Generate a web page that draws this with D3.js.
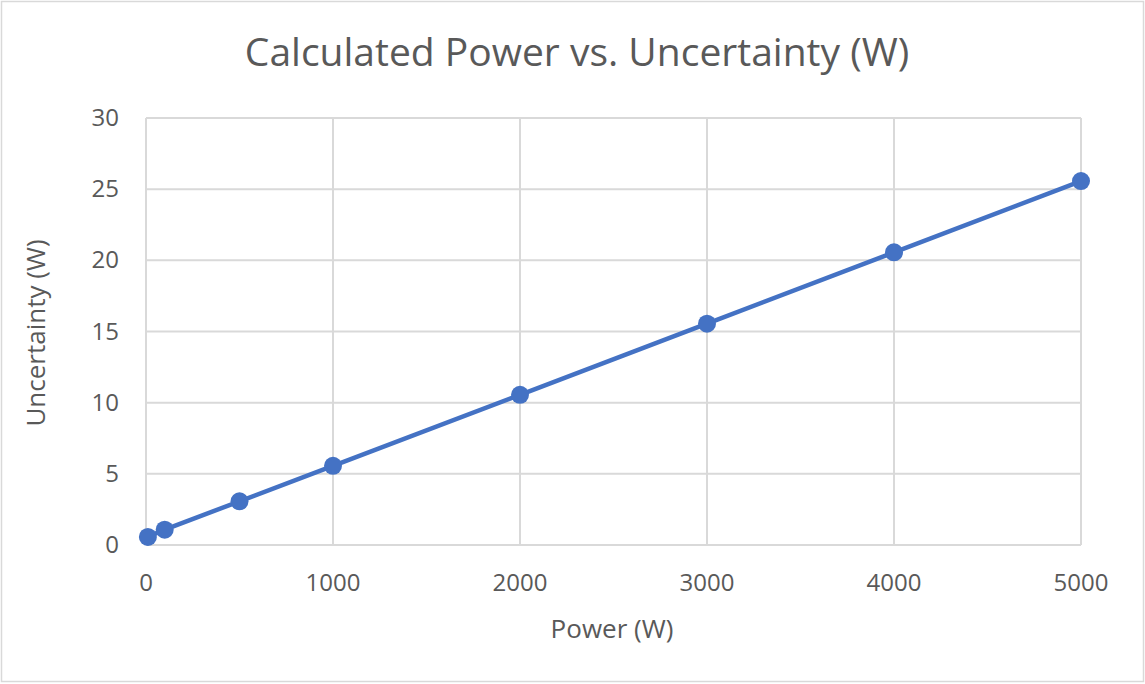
<!DOCTYPE html>
<html><head><meta charset="utf-8">
<script src="https://cdn.jsdelivr.net/npm/d3@7"></script>
<style>body{margin:0;background:#fff;} svg{display:block;}</style>
</head><body>
<script>
const powerValues = [10, 100, 500, 1000, 2000, 3000, 4000, 5000];
const uncertaintyValues = [0.57, 1.08, 3.07, 5.56, 10.55, 15.55, 20.56, 25.57];
const xTicks = [0, 1000, 2000, 3000, 4000, 5000];
const yTicks = [0, 5, 10, 15, 20, 25, 30];
const titleText = "Calculated Power vs. Uncertainty (W)";
const xTitle = "Power (W)";
const yTitle = "Uncertainty (W)";

const W = 1145, H = 684;
const font = "'Open Sans', 'Liberation Sans', sans-serif";
const svg = d3.select("body").append("svg").attr("width", W).attr("height", H);
svg.append("rect").attr("x", 1.5).attr("y", 1.5).attr("width", W - 3).attr("height", H - 4)
  .attr("fill", "#fff").attr("stroke", "#d9d9d9").attr("stroke-width", 1.5);

const x = d3.scaleLinear().domain([0, 5000]).range([146, 1081]);
const y = d3.scaleLinear().domain([0, 30]).range([545, 118]);

const g = svg.append("g");
g.selectAll(".vg").data(xTicks).enter().append("line")
  .attr("x1", d => x(d)).attr("x2", d => x(d)).attr("y1", y(30)).attr("y2", y(0))
  .attr("stroke", "#d9d9d9").attr("stroke-width", 2);
g.selectAll(".hg").data(yTicks).enter().append("line")
  .attr("x1", x(0)).attr("x2", x(5000)).attr("y1", d => y(d)).attr("y2", d => y(d))
  .attr("stroke", "#d9d9d9").attr("stroke-width", 2);

g.selectAll(".xt").data(xTicks).enter().append("text")
  .attr("x", d => x(d)).attr("y", 591).attr("text-anchor", "middle")
  .attr("font-family", font).attr("font-size", 24).attr("fill", "#595959").text(d => d);
g.selectAll(".yt").data(yTicks).enter().append("text")
  .attr("x", 119).attr("y", d => y(d) + 8).attr("text-anchor", "end")
  .attr("font-family", font).attr("font-size", 24).attr("fill", "#595959").text(d => d);

const data = powerValues.map((p, i) => [p, uncertaintyValues[i]]);
g.append("path").datum(data)
  .attr("d", d3.line().x(d => x(d[0])).y(d => y(d[1])))
  .attr("fill", "none").attr("stroke", "#4472c4").attr("stroke-width", 4.5).attr("stroke-linejoin", "round");
g.selectAll(".pt").data(data).enter().append("circle")
  .attr("cx", d => x(d[0])).attr("cy", d => y(d[1])).attr("r", 9).attr("fill", "#4472c4");

svg.append("text").attr("x", 577).attr("y", 66).attr("text-anchor", "middle")
  .attr("font-family", font).attr("font-size", 39).attr("fill", "#595959").text(titleText);
svg.append("text").attr("x", 612).attr("y", 638).attr("text-anchor", "middle")
  .attr("font-family", font).attr("font-size", 26).attr("fill", "#595959").text(xTitle);
svg.append("text").attr("transform", "translate(45,333) rotate(-90)").attr("text-anchor", "middle")
  .attr("font-family", font).attr("font-size", 26).attr("fill", "#595959").text(yTitle);
</script>
</body></html>
